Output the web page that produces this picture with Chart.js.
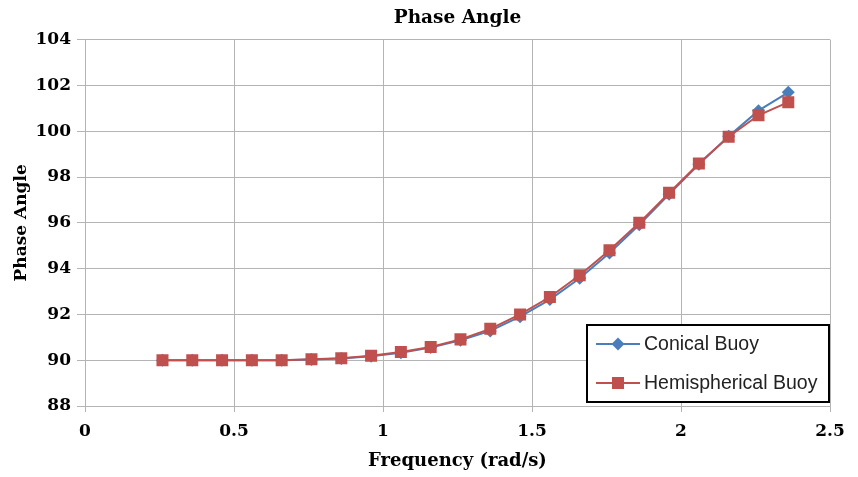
<!DOCTYPE html>
<html>
<head>
<meta charset="utf-8">
<script src="https://cdn.jsdelivr.net/npm/chart.js@4/dist/chart.umd.min.js"></script>
<style>
  html, body { margin: 0; padding: 0; background: #fff; }
  #c { display: block; }
</style>
</head>
<body>
<canvas id="c" width="858" height="477"></canvas>
<script>
// ---- data ----
const chartTitle = "Phase Angle";
const xTitle = "Frequency (rad/s)";
const yTitle = "Phase Angle";
const seriesNames = ["Conical Buoy", "Hemispherical Buoy"];
const frequency = [0.26, 0.36, 0.46, 0.56, 0.66, 0.76, 0.86, 0.96, 1.06, 1.16, 1.26,
                   1.36, 1.46, 1.56, 1.66, 1.76, 1.86, 1.96, 2.06, 2.16, 2.26, 2.36];
const conical = [90.0, 90.0, 90.0, 90.0, 90.0, 90.03, 90.08, 90.17, 90.33, 90.55, 90.87,
                 91.28, 91.9, 92.65, 93.58, 94.68, 95.92, 97.25, 98.56, 99.78, 100.9, 101.7];
const hemispherical = [90.0, 90.0, 90.0, 90.0, 90.0, 90.04, 90.09, 90.19, 90.36, 90.58, 90.91,
                       91.37, 92.0, 92.76, 93.71, 94.8, 96.0, 97.31, 98.59, 99.76, 100.7, 101.27];
const xTicks = [0, 0.5, 1, 1.5, 2, 2.5];
const yTicks = [88, 90, 92, 94, 96, 98, 100, 102, 104];

const BLUE = "#4A7EBB";
const RED = "#C0504D";
const GRID = "#B4B4B4";
const serif = "'DejaVu Serif', 'Liberation Serif', serif";

const toPts = (ys) => ys.map((y, i) => ({ x: frequency[i], y }));

// custom in-plot legend with black border (as in the reference)
const boxLegend = {
  id: "boxLegend",
  afterDraw(chart) {
    const ctx = chart.ctx;
    const ca = chart.chartArea;
    const w = 242, h = 77;
    const x0 = ca.right - w - 1, y0 = ca.bottom - h - 4;
    ctx.save();
    ctx.fillStyle = "#fff";
    ctx.fillRect(x0, y0, w, h);
    ctx.lineWidth = 2;
    ctx.strokeStyle = "#000";
    ctx.strokeRect(x0, y0, w, h);
    ctx.font = "19.5px 'Liberation Sans', Arial, sans-serif";
    ctx.textBaseline = "middle";
    ctx.textAlign = "left";
    const rows = [chart.data.datasets[0], chart.data.datasets[1]];
    rows.forEach((ds, i) => {
      const cy = y0 + 19 + i * 39;
      const lx0 = x0 + 9, lx1 = x0 + 53, mx = (lx0 + lx1) / 2;
      ctx.strokeStyle = ds.borderColor;
      ctx.lineWidth = 2;
      ctx.beginPath(); ctx.moveTo(lx0, cy); ctx.lineTo(lx1, cy); ctx.stroke();
      ctx.fillStyle = ds.backgroundColor;
      if (ds.pointStyle === "rect") {
        ctx.fillRect(mx - 6, cy - 6, 12, 12);
      } else {
        ctx.beginPath();
        ctx.moveTo(mx, cy - 6.5); ctx.lineTo(mx + 6.5, cy); ctx.lineTo(mx, cy + 6.5); ctx.lineTo(mx - 6.5, cy);
        ctx.closePath(); ctx.fill();
      }
      ctx.fillStyle = "#222";
      ctx.fillText(ds.label, x0 + 57, cy + 1);
    });
    ctx.restore();
  }
};

new Chart(document.getElementById("c"), {
  type: "line",
  data: {
    datasets: [
      {
        label: seriesNames[0],
        data: toPts(conical),
        borderColor: BLUE,
        backgroundColor: BLUE,
        borderWidth: 2,
        pointStyle: "rectRot",
        pointRadius: 6.5,
        pointBorderWidth: 0,
        order: 2
      },
      {
        label: seriesNames[1],
        data: toPts(hemispherical),
        borderColor: RED,
        backgroundColor: RED,
        borderWidth: 2,
        pointStyle: "rect",
        pointRadius: 8.5,
        pointBorderWidth: 0,
        order: 1
      }
    ]
  },
  options: {
    responsive: false,
    animation: false,
    layout: { padding: { left: 0, right: 28, top: 0, bottom: 0 } },
    plugins: {
      legend: { display: false },
      tooltip: { enabled: false },
      title: {
        display: true,
        text: chartTitle,
        fullSize: false,
        color: "#000",
        font: { family: serif, size: 18.5, weight: "bold", lineHeight: 1.2 },
        padding: { top: 7.5, bottom: 10 }
      }
    },
    scales: {
      x: {
        type: "linear",
        min: 0, max: 2.5,
        afterBuildTicks: (s) => { s.ticks = xTicks.map(v => ({ value: v })); },
        afterFit: (s) => { s.height = 71; },
        ticks: {
          color: "#000",
          padding: 9,
          font: { family: serif, size: 17, weight: "bold" },
          callback: (v) => String(v)
        },
        grid: { color: GRID, lineWidth: 1, tickLength: 6, drawTicks: true },
        border: { color: GRID, width: 1 },
        title: {
          display: true,
          text: xTitle,
          color: "#000",
          font: { family: serif, size: 18, weight: "bold", lineHeight: 1.2 },
          padding: { top: 0, bottom: 5 }
        }
      },
      y: {
        type: "linear",
        min: 88, max: 104,
        afterBuildTicks: (s) => { s.ticks = yTicks.map(v => ({ value: v })); },
        afterFit: (s) => { s.width = 85; },
        ticks: {
          color: "#000",
          padding: 6,
          font: { family: serif, size: 17, weight: "bold" },
          callback: (v) => String(v)
        },
        grid: { color: GRID, lineWidth: 1, tickLength: 8, drawTicks: true },
        border: { color: GRID, width: 1 },
        title: {
          display: true,
          text: yTitle,
          color: "#000",
          font: { family: serif, size: 17, weight: "bold", lineHeight: 1.2 },
          padding: { top: 11, bottom: 0 }
        }
      }
    }
  },
  plugins: [boxLegend]
});
</script>
</body>
</html>
